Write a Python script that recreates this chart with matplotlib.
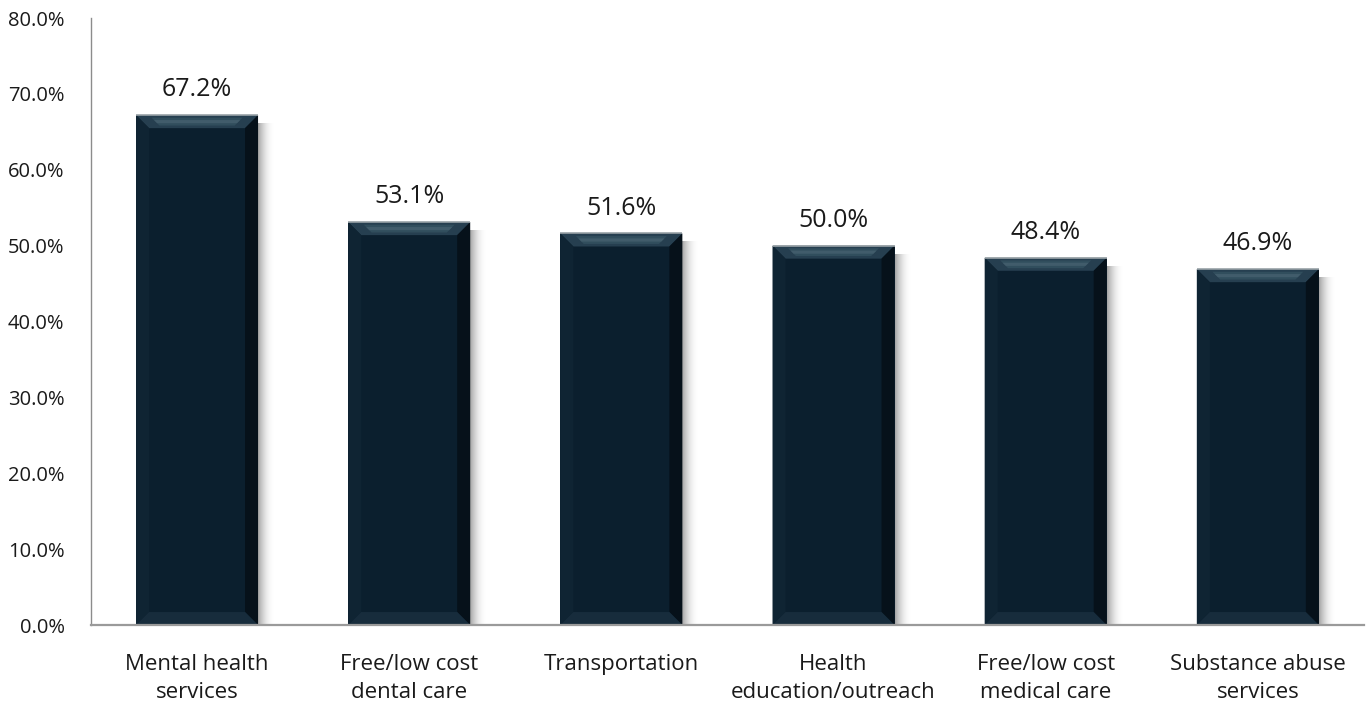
import matplotlib
matplotlib.use("Agg")
import matplotlib.pyplot as plt
from matplotlib.patches import Polygon, Rectangle
from matplotlib.ticker import FuncFormatter, MultipleLocator

plt.rcParams["font.family"] = ["Open Sans", "DejaVu Sans"]

categories = [
    "Mental health\nservices",
    "Free/low cost\ndental care",
    "Transportation",
    "Health\neducation/outreach",
    "Free/low cost\nmedical care",
    "Substance abuse\nservices",
]
values = [67.2, 53.1, 51.6, 50.0, 48.4, 46.9]

BODY = "#0b1f2e"

fig = plt.figure(figsize=(13.68, 7.06), dpi=100)
ax = fig.add_axes([0.0665, 0.1147, 0.9305, 0.8598])

bars = ax.bar(range(len(values)), values, width=0.575, color=BODY, zorder=3)
ax.set_xlim(-0.5, len(values) - 0.5)
ax.set_ylim(0, 80)

# pixel -> data scale for bevel and shadow sizes
fig.canvas.draw()
bbox = ax.get_window_extent()
px_x = (ax.get_xlim()[1] - ax.get_xlim()[0]) / bbox.width
px_y = (ax.get_ylim()[1] - ax.get_ylim()[0]) / bbox.height


def bevel(rect):
    x, y = rect.get_x(), rect.get_y()
    w, h = rect.get_width(), rect.get_height()
    bx, by = 13 * px_x, 13 * px_y
    x2, top = x + w, y + h
    # soft drop shadow on the right
    n = 16
    for i in range(n):
        ax.add_patch(Rectangle((x2 + i * px_x, y), px_x, h - 8 * px_y,
                               color="#606060", alpha=0.55 * (1 - i / n) ** 2,
                               lw=0, zorder=2))
    faces = [
        ([(x, top), (x2, top), (x2 - bx, top - by), (x + bx, top - by)], "#263f50"),
        ([(x, top), (x + bx, top - by), (x + bx, y + by), (x, y)], "#0f2433"),
        ([(x2, top), (x2 - bx, top - by), (x2 - bx, y + by), (x2, y)], "#06111a"),
        ([(x, y), (x + bx, y + by), (x2 - bx, y + by), (x2, y)], "#172c3c"),
    ]
    for pts, c in faces:
        ax.add_patch(Polygon(pts, closed=True, color=c, lw=0, zorder=4))
    # lighter streak across the top bevel
    for f0, f1, c, a in [(0.2, 0.8, "#33505f", 0.9), (0.38, 0.62, "#46606f", 0.8)]:
        ax.add_patch(Polygon([(x + bx * (1 + f0), top - f0 * by),
                              (x2 - bx * (1 + f0), top - f0 * by),
                              (x2 - bx * (1 + f1), top - f1 * by),
                              (x + bx * (1 + f1), top - f1 * by)],
                             closed=True, color=c, lw=0, zorder=5, alpha=a))
    ax.plot([x, x2], [top, top], color="#9aa3a8", lw=1.2, zorder=6,
            solid_capstyle="butt")


for rect, v in zip(bars, values):
    bevel(rect)
    ax.text(rect.get_x() + rect.get_width() / 2, v + 1.7, f"{v:.1f}%",
            ha="center", va="bottom", fontsize=18, color="#1a1a1a")

ax.yaxis.set_major_locator(MultipleLocator(10))
ax.yaxis.set_major_formatter(FuncFormatter(lambda v, _: f"{v:.1f}%"))
ax.set_xticks(range(len(categories)))
ax.set_xticklabels(categories, fontsize=16, color="#1a1a1a", linespacing=1.4)
ax.tick_params(axis="y", labelsize=14.5, length=0, pad=19, labelcolor="#1a1a1a")
ax.tick_params(axis="x", length=0, pad=21)

for side in ("top", "right"):
    ax.spines[side].set_visible(False)
ax.spines["left"].set_color("#8c8c8c")
ax.spines["bottom"].set_color("#9a9a9a")
ax.spines["left"].set_linewidth(1)
ax.spines["bottom"].set_linewidth(1.6)
ax.spines["bottom"].set_zorder(7)

fig.savefig("out.png", dpi=100)
